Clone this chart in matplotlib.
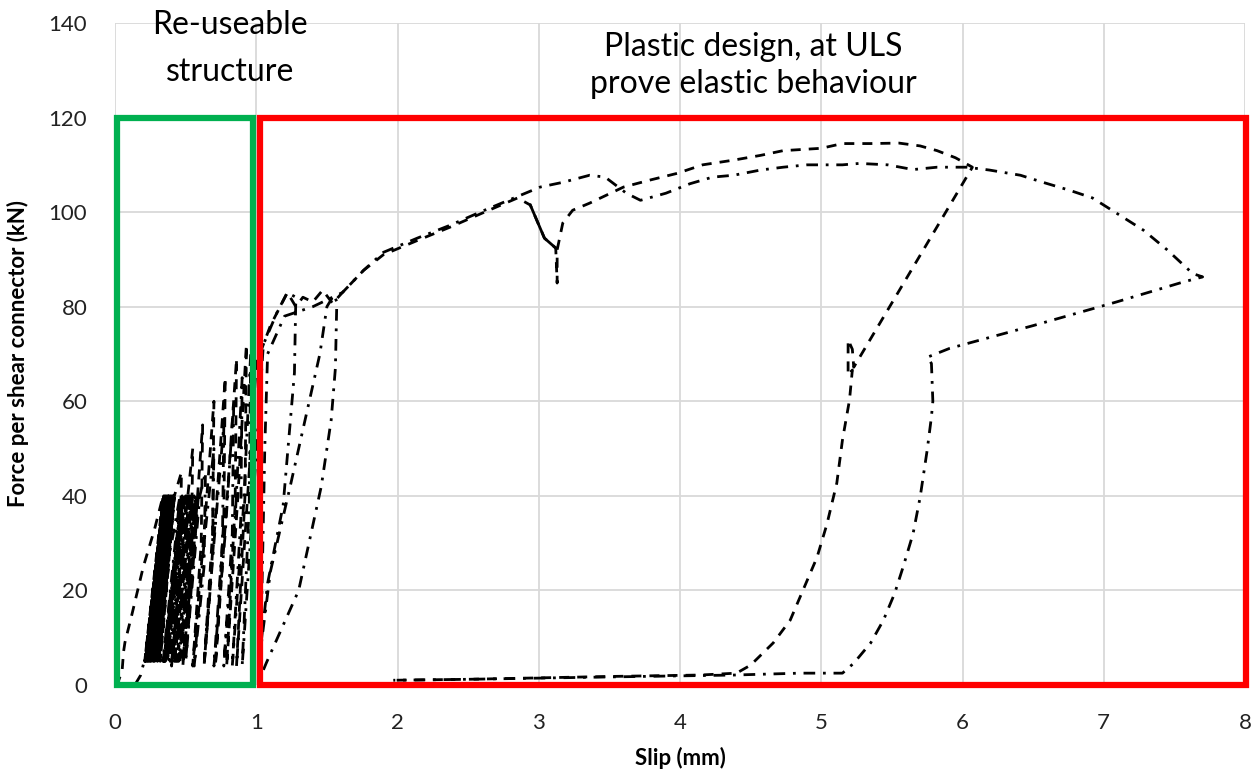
import numpy as np
import matplotlib.pyplot as plt
from matplotlib.patches import Rectangle

plt.rcParams['font.family'] = ['Lato', 'DejaVu Sans']

# ---- test 1 (dashed) ----
s1_init_x = [0.00, 0.02, 0.05, 0.06, 0.07, 0.12, 0.20, 0.28, 0.34]
s1_init_y = [0.0, 0.5, 3.0, 7.0, 9.0, 15.0, 25.0, 33.0, 40.0]
# 5-40 kN load cycles: slip at the lower and upper load level
s1_cyc_lo = [0.21, 0.215, 0.22, 0.225, 0.23, 0.235, 0.24, 0.245, 0.25, 0.255,
             0.26, 0.27, 0.28, 0.29, 0.30, 0.31, 0.32]
s1_cyc_hi = [0.345, 0.35, 0.355, 0.36, 0.365, 0.37, 0.375, 0.38, 0.385, 0.39,
             0.395, 0.40, 0.405, 0.41, 0.415, 0.42, 0.42]
s1_main_x = [0.42, 0.47, 0.46, 0.40, 0.48, 0.55, 0.54, 0.48, 0.56, 0.62, 0.61, 0.55,
             0.63, 0.70, 0.69, 0.63, 0.71, 0.78, 0.77, 0.71, 0.79, 0.86, 0.85, 0.79,
             0.87, 0.93, 0.92, 0.86, 0.95, 1.00, 1.10, 1.22, 1.28, 1.33, 1.40, 1.47,
             1.54, 1.61, 1.76, 1.90, 2.14, 2.37, 2.60, 2.85, 2.94, 3.04, 3.12, 3.13,
             3.13, 3.17, 3.24, 3.36, 3.48, 3.60, 3.79, 3.98, 4.16, 4.38, 4.57, 4.73,
             5.00, 5.15, 5.35, 5.55, 5.70, 5.82, 5.95, 6.07, 5.23, 5.22, 5.19, 5.19,
             5.22, 5.20, 5.15, 5.11, 5.04, 4.97, 4.87, 4.78, 4.66, 4.50, 4.40, 4.14,
             3.50, 3.00, 2.50, 1.97]
s1_main_y = [40, 45, 25, 4, 30, 50, 28, 4, 30, 55, 30, 4,
             32, 60, 32, 4, 35, 65, 35, 4, 38, 69, 38, 4,
             40, 72, 40, 4, 45, 68, 76, 83, 80, 82, 81, 83.5,
             80.7, 83, 87.7, 91, 94, 96.8, 99.8, 103, 101.5, 94.5, 92.4, 85,
             92, 97.7, 100.4, 101.9, 103.6, 105.3, 106.8, 108.2, 110, 111, 112, 113,
             113.5, 114.5, 114.5, 114.6, 114, 113, 111.5, 109.5, 67.2, 71, 73, 65.5,
             66.6, 60.3, 51.8, 42.7, 34, 27, 20, 13.7, 8.9, 4.2, 2.5, 2.1,
             1.8, 1.5, 1.2, 1.0]
# short unloading branch drawn solid
s1_drop_x = [2.94, 3.04, 3.12]
s1_drop_y = [101.5, 94.5, 92.4]

# ---- test 2 (dash-dot) ----
s2_init_x = [0.14, 0.18, 0.25, 0.33, 0.40, 0.46]
s2_init_y = [0.0, 2.0, 10.0, 20.0, 30.0, 40.0]
s2_cyc_lo = [0.34, 0.345, 0.35, 0.355, 0.36, 0.37, 0.38, 0.39, 0.40, 0.41,
             0.42, 0.43, 0.44, 0.45, 0.46, 0.48, 0.50]
s2_cyc_hi = [0.47, 0.475, 0.48, 0.485, 0.49, 0.50, 0.51, 0.52, 0.53, 0.54,
             0.55, 0.56, 0.57, 0.575, 0.58, 0.59, 0.60]
s2_main_x = [0.60, 0.64, 0.63, 0.56, 0.63, 0.70, 0.69, 0.63, 0.70, 0.77, 0.76, 0.70,
             0.78, 0.84, 0.83, 0.77, 0.85, 0.90, 0.89, 0.83, 0.91, 0.96, 0.95, 0.90,
             0.99, 1.05, 1.15, 1.22, 1.28, 1.27, 1.19, 1.08, 1.02, 1.10, 1.24, 1.45,
             1.50, 1.55, 1.57, 1.56, 1.53, 1.46, 1.30, 1.07, 1.02, 1.04, 1.06, 1.08,
             1.20, 1.40, 1.61, 1.76, 1.90, 2.14, 2.37, 2.60, 2.85, 3.01, 3.17, 3.36,
             3.47, 3.62, 3.72, 3.90, 4.07, 4.23, 4.38, 4.57, 4.73, 4.90, 5.15, 5.27,
             5.47, 5.65, 5.82, 6.03, 6.19, 6.41, 6.57, 6.76, 6.92, 7.09, 7.28, 7.45,
             7.63, 7.70, 7.56, 7.09, 6.50, 5.91, 5.75, 5.78, 5.79, 5.78, 5.75, 5.70,
             5.65, 5.58, 5.52, 5.44, 5.35, 5.23, 5.15, 4.85, 4.38, 3.50, 2.50, 1.97]
s2_main_y = [40, 45, 25, 4, 30, 50, 28, 4, 30, 55, 30, 4,
             32, 60, 32, 4, 35, 65, 35, 4, 38, 70, 38, 4,
             45, 72, 79, 83, 82, 66, 38, 21.5, 5, 24, 42, 70,
             80, 82.5, 81, 67, 56, 42, 20, 4.6, 1, 20, 50, 70,
             78, 80, 83, 87.7, 91.5, 94.5, 97.2, 100.2, 103.3, 105.3, 106.3, 107.8,
             107.4, 104, 102.5, 104, 106, 107.4, 107.8, 108.9, 109.5, 110, 110, 110.3,
             110, 109, 109.5, 109.5, 108.9, 107.8, 106.3, 104.6, 103, 99.8, 96.2, 92,
             87, 86.3, 85.2, 81, 76, 71.2, 69.3, 68, 60, 56.7, 49.7, 39.7,
             32, 25, 19.4, 13.7, 8.9, 4.6, 2.5, 2.5, 2.1, 1.7, 1.2, 1.0]

cyc_load_lo, cyc_load_hi = 5, 40

x_ticks = [0, 1, 2, 3, 4, 5, 6, 7, 8]
y_ticks = [0, 20, 40, 60, 80, 100, 120, 140]


def build(init_x, init_y, lo, hi, main_x, main_y):
    xs = list(init_x)
    ys = list(init_y)
    for a, b in zip(lo, hi):
        xs += [a, b]
        ys += [cyc_load_lo, cyc_load_hi]
    return np.array(xs + list(main_x)), np.array(ys + list(main_y))


fig = plt.figure(figsize=(12.52, 7.79), dpi=100)
ax = fig.add_axes([0.0919, 0.1207, 0.9025, 0.8498])

x1, y1 = build(s1_init_x, s1_init_y, s1_cyc_lo, s1_cyc_hi, s1_main_x, s1_main_y)
x2, y2 = build(s2_init_x, s2_init_y, s2_cyc_lo, s2_cyc_hi, s2_main_x, s2_main_y)

ax.plot(x1, y1, color='black', lw=2.0, ls=(0, (3.6, 2.9)), zorder=3)
ax.plot(x2, y2, color='black', lw=2.0, ls=(0, (4.2, 2.8, 1.0, 2.8)), zorder=3)
ax.plot(s1_drop_x, s1_drop_y, color='black', lw=2.0, zorder=3)

ax.add_patch(Rectangle((0.014, 0), 0.963, 120, fill=False, ec='#00B050', lw=4.5,
                       clip_on=False, zorder=5))
ax.add_patch(Rectangle((1.027, 0), 6.983, 120, fill=False, ec='#FF0000', lw=4.5,
                       clip_on=False, zorder=5))

ax.text(0.815, 139.5, 'Re-useable', ha='center', va='center', fontsize=23)
ax.text(0.815, 129.6, 'structure', ha='center', va='center', fontsize=23)
ax.text(4.52, 135.0, 'Plastic design, at ULS', ha='center', va='center', fontsize=23)
ax.text(4.52, 127.2, 'prove elastic behaviour', ha='center', va='center', fontsize=23)

ax.set_xlim(0, 8)
ax.set_ylim(0, 140)
ax.set_xticks(x_ticks)
ax.set_yticks(y_ticks)
ax.tick_params(length=0, labelsize=16, pad=20, colors='#222222')
ax.grid(True, color='#d9d9d9', lw=1.3)
ax.set_axisbelow(True)
for s in ax.spines.values():
    s.set_visible(False)

ax.set_xlabel('Slip (mm)', fontsize=16, fontweight='bold', labelpad=10)
ax.set_ylabel('Force per shear connector (kN)', fontsize=16, fontweight='bold', labelpad=14)

fig.savefig('out.png', dpi=100)
